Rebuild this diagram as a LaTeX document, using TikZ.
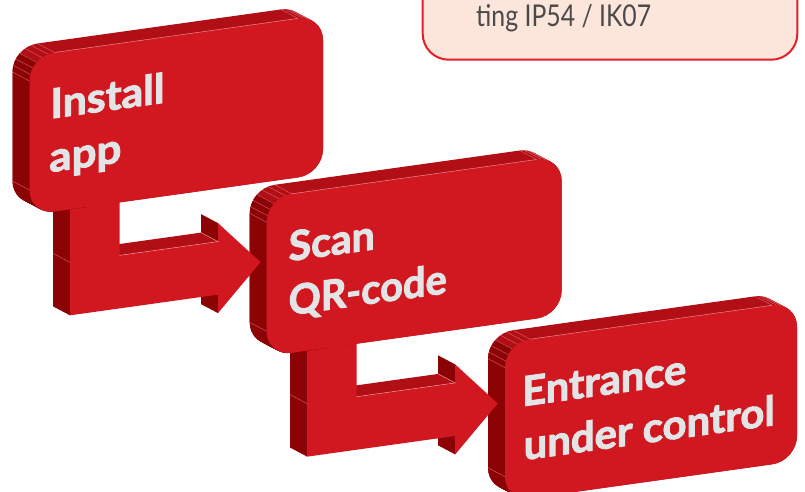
\documentclass[tikz,border=0pt]{standalone}
\usepackage{fontspec}
\usepackage{graphicx}
\setmainfont{Lato}
\newfontfamily\stagefont{Lato}[BoldFeatures={FakeBold=2.4}]
\definecolor{frontred}{HTML}{D1171F}
\definecolor{topred}{HTML}{B20E16}
\definecolor{sidered}{HTML}{8C0306}
\definecolor{boxtxt}{HTML}{E3E4E6}
\definecolor{edgecol}{HTML}{EE8A8E}
\definecolor{annofill}{HTML}{FCE5DB}
\definecolor{annoline}{HTML}{E31E26}
\definecolor{annotxt}{HTML}{4A4A4A}
\newcommand\fitto[2]{\setbox0=\hbox{#2}\pgfmathsetmacro\fitfac{#1/\the\wd0}\scalebox{\fitfac}[1]{\box0}}
\tikzset{
  frontface/.style={fill=frontred},
  topface/.style={fill=topred},
  sideface/.style={fill=sidered},
  edgeln/.style={draw=edgecol, line width=0.5pt},
  hatchln/.style={draw=edgecol, line width=0.4pt, opacity=0.7},
  boxtext/.style={anchor=base west, inner sep=0pt, text=boxtxt, font=\fontsize{41}{48}\stagefont\bfseries, transform shape},
  skewed/.style={yslant=0.14}
}
% #1 x0, #2 y0, #3 width
\newcommand\stagebox[3]{%
\begin{scope}[shift={(#1,#2)}, skewed]
  \foreach \t in {17,16,...,0}{\path[topface, rounded corners=25pt] (-\t,{-0.6694*\t}) rectangle ++(#3,159);}
  \begin{scope}
    \clip (-26.7,-15.46) -- (58.3,41.44) -- (58.3,300) -- (-60,300) -- (-60,-15.46) -- cycle;
    \foreach \t in {17,16,...,0}{\path[sideface, rounded corners=25pt] (-\t,{-0.6694*\t}) rectangle ++(#3,159);}
  \end{scope}
  \foreach \a in {0,15,...,90}{\path[hatchln] ({25-25*cos(\a)},{25-25*sin(\a)}) -- ++(-17,-11.38);}
  \foreach \a in {0,10,20,30}{\path[hatchln] ({#3-25+25*sin(\a)},{25-25*cos(\a)}) -- ++(-17,-11.38);}
  \path[hatchln] (0,134) -- ++(-17,-11.38);
  \path[frontface, rounded corners=25pt] (0,0) rectangle (#3,159);
  \path[edgeln] (25,0) -- (#3-25,0);
\end{scope}}
% arrow in the frame of its source box
\newcommand\stagearrow[2]{%
\begin{scope}[shift={(#1,#2)}, skewed]
  \path[sideface] (40.5,150) -- (40.5,265) -- ++(-17,-11.38) -- (23.5,138.62) -- cycle;
  \path[topface] (90,212) -- (188.5,212) -- ++(-17,-11.38) -- (73,200.62) -- cycle;
  \path[sideface] (188.5,193.5) -- (188.5,212) -- ++(-17,-11.38) -- (171.5,182.12) -- cycle;
  \path[sideface] (188.5,265) -- (188.5,283.5) -- ++(-17,-11.38) -- (171.5,253.62) -- cycle;
  \path[frontface] (40.5,150) -- (90,150) -- (90,212) -- (188.5,212) -- (188.5,193.5) -- (231,238.5) -- (188.5,283.5) -- (188.5,265) -- (40.5,265) -- cycle;
  \path[edgeln] (90,212) -- (188.5,212) -- ++(-17,-11.38);
  \path[hatchln] (40.5,212) -- ++(-17,-11.38);
\end{scope}}
\begin{document}
\begin{tikzpicture}[x=1pt,y=-1pt]
\useasboundingbox (0,0) rectangle (805,491);
% annotation box (cut by the top edge)
\path[draw=annoline, line width=2pt, fill=annofill, rounded corners=26pt] (422.7,-80) rectangle (797.3,59.7);
\node[anchor=base west, inner sep=0pt, text=annotxt, font=\fontsize{30}{36}\selectfont] (annotext) at (476,26) {\fitto{175}{ting IP54 / IK07}};
% stage 3
\stagebox{505}{342.7}{292}
\begin{scope}[shift={(505,342.7)}, skewed]
  \node[boxtext] (t3a) at (17,66) {\fitto{164}{Entrance}};
  \node[boxtext] (t3b) at (18.5,120) {\fitto{251}{under control}};
\end{scope}
% arrow 2
\stagearrow{266.7}{197.3}
% stage 2
\stagebox{266.7}{197.3}{295}
\begin{scope}[shift={(266.7,197.3)}, skewed]
  \node[boxtext] (t2a) at (21.8,67) {\fitto{86}{Scan}};
  \node[boxtext] (t2b) at (21.8,121) {\fitto{158}{QR-code}};
\end{scope}
% arrow 1
\stagearrow{29.5}{56}
% stage 1
\stagebox{29.5}{56}{293.5}
\begin{scope}[shift={(29.5,56)}, skewed]
  \node[boxtext] (t1a) at (20.7,65.5) {\fitto{114}{Install}};
  \node[boxtext] (t1b) at (19.7,119) {\fitto{72}{app}};
\end{scope}
\end{tikzpicture}
\end{document}
